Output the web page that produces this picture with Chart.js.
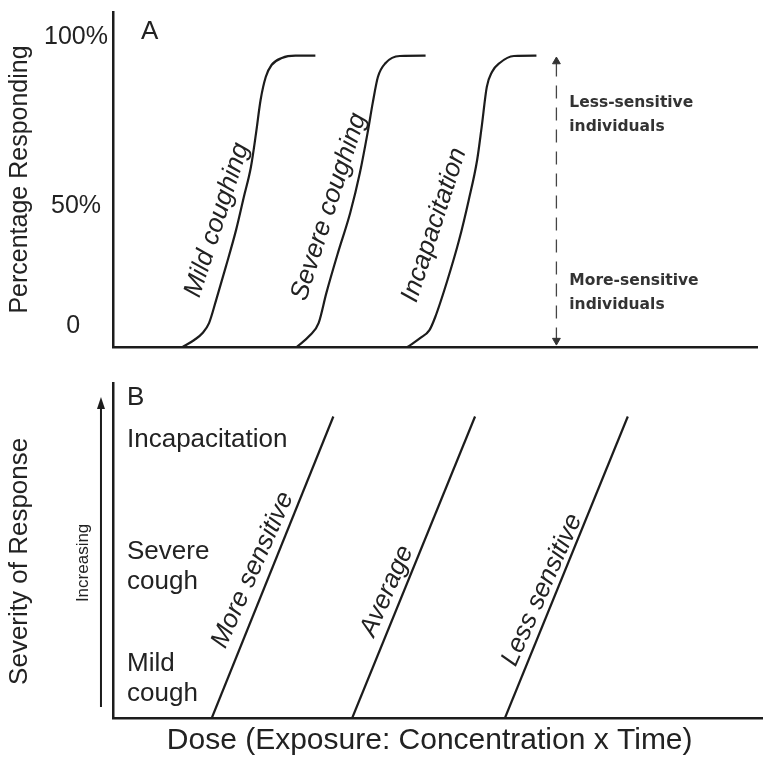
<!DOCTYPE html>
<html><head><meta charset="utf-8">
<script src="https://cdn.jsdelivr.net/npm/chart.js@4.4.1/dist/chart.umd.min.js"></script>
<style>
html,body{margin:0;padding:0;background:#fff;}
#wrap{position:relative;width:763px;height:760px;overflow:hidden;background:#fff;}
#cA{position:absolute;left:0;top:0;}
#cB{position:absolute;left:0;top:365px;}
</style></head><body>
<div id="wrap"><canvas id="cA" width="763" height="365"></canvas><canvas id="cB" width="763" height="395"></canvas></div>
<script>
// ---------------- DATA ----------------
// Panel A: percentage responding vs dose (schematic dose units)
const mildX   = [10.8, 12.6, 13.9, 14.9, 16.0, 17.5, 19.1, 20.3, 21.4, 22.2, 22.9, 23.7, 24.6, 26.2, 28.3, 31.4];
const mildY   = [0, 2.4, 4.8, 8.2, 16.1, 27.5, 40.2, 51.5, 61.8, 73.5, 84.8, 92.7, 96.8, 99.2, 100, 100];
const severeX = [28.5, 30.6, 31.9, 33.1, 34.9, 36.8, 38.3, 39.5, 40.3, 41.1, 42.3, 44.5, 48.5];
const severeY = [0, 4.1, 8.2, 18.5, 32.3, 46.0, 59.7, 73.5, 83.8, 92.7, 97.5, 99.9, 100];
const incapX  = [45.7, 47.7, 49.1, 50.0, 51.9, 53.7, 55.2, 56.5, 57.2, 58.0, 58.8, 60.0, 62.2, 65.7];
const incapY  = [0, 3.1, 5.8, 10.3, 23.0, 36.7, 50.5, 64.2, 75.5, 89.3, 94.4, 97.5, 99.9, 100];
const spreadX = [68.8, 68.8];
const spreadY = [2.2, 98.0];
const yTickValuesA = [7.0, 48.2, 106.5];
const yTickLabelsA = ['0    ', '50% ', '100%'];
const curveLabelsA = ['Mild coughing', 'Severe coughing', 'Incapacitation'];
const sideLabelsA  = [['Less-sensitive', 'individuals'], ['More-sensitive', 'individuals']];

// Panel B: severity of response vs dose
const moreSensX = [15.2, 33.9];
const moreSensY = [0, 9];
const averageX  = [36.8, 55.7];
const averageY  = [0, 9];
const lessSensX = [60.3, 79.2];
const lessSensY = [0, 9];
const increasingX = [-1.85, -1.85];
const increasingY = [0.33, 9.4];
const yTickValuesB = [1.18, 4.5, 8.3];
const yTickLabelsB = [['Mild', 'cough'], ['Severe', 'cough'], 'Incapacitation'];
const lineLabelsB = ['More sensitive', 'Average', 'Less sensitive'];

// ---------------- STYLE ----------------
const INK = '#1c1c1c';
const TXT = '#222';
const FAM = '"Liberation Sans", Arial, Helvetica, sans-serif';
const pts = (xs, ys) => xs.map((x, i) => ({x, y: ys[i]}));

function annotPlugin(items) {
  return {
    id: 'annot',
    afterDatasetsDraw(chart) {
      const {ctx} = chart;
      const xs = chart.scales.x, ys = chart.scales.y;
      items.forEach(it => {
        ctx.save();
        ctx.translate(xs.getPixelForValue(it.x), ys.getPixelForValue(it.y));
        ctx.rotate((it.rot || 0) * Math.PI / 180);
        ctx.font = it.font;
        ctx.fillStyle = it.color || TXT;
        ctx.textAlign = it.align || 'center';
        ctx.textBaseline = 'middle';
        const lines = Array.isArray(it.text) ? it.text : [it.text];
        const lh = it.lh || 0;
        lines.forEach((l, i) => ctx.fillText(l, 0, (i - (lines.length - 1) / 2) * lh));
        ctx.restore();
      });
    }
  };
}

// arrowhead at the last point of a dataset (points outside the chart area are not drawn by Chart.js)
function arrowHeadPlugin(dsIndex) {
  return {
    id: 'arrowHead',
    afterDatasetsDraw(chart) {
      const meta = chart.getDatasetMeta(dsIndex);
      const n = meta.data.length;
      const p = meta.data[n - 1], q = meta.data[n - 2];
      const ang = Math.atan2(p.y - q.y, p.x - q.x);
      const {ctx} = chart;
      ctx.save();
      ctx.translate(p.x, p.y);
      ctx.rotate(ang);
      ctx.beginPath();
      ctx.moveTo(6, 0);
      ctx.lineTo(-6, -4);
      ctx.lineTo(-6, 4);
      ctx.closePath();
      ctx.fillStyle = INK;
      ctx.fill();
      ctx.restore();
    }
  };
}

const lineDs = (data, extra) => Object.assign({
  data, showLine: true, borderColor: INK, backgroundColor: INK, borderWidth: 2.2,
  pointRadius: 0, pointHoverRadius: 0, cubicInterpolationMode: 'monotone', fill: false
}, extra || {});

const noPad = s => { s.paddingTop = 0; s.paddingBottom = 0; s.paddingLeft = 0; s.paddingRight = 0; };

// ---------------- PANEL A ----------------
new Chart(document.getElementById('cA'), {
  type: 'scatter',
  data: {
    datasets: [
      lineDs(pts(mildX, mildY)),
      lineDs(pts(severeX, severeY)),
      lineDs(pts(incapX, incapY)),
      lineDs(pts(spreadX, spreadY), {
        borderWidth: 1.3, borderColor: '#444', borderDash: [13, 9], cubicInterpolationMode: 'default',
        pointStyle: 'triangle', pointRadius: 4.5, pointRotation: [180, 0],
        pointBackgroundColor: '#333', pointBorderColor: '#333', pointBorderWidth: 1
      })
    ]
  },
  options: {
    responsive: false, animation: false, devicePixelRatio: 1,
    layout: {padding: {top: 12, left: 0, right: 0, bottom: 0}},
    plugins: {legend: {display: false}, tooltip: {enabled: false}},
    scales: {
      x: {
        type: 'linear', min: 0, max: 100,
        ticks: {display: false}, grid: {display: false, drawTicks: false},
        border: {color: INK, width: 2.5},
        afterFit: s => { s.height = 18; noPad(s); }
      },
      y: {
        type: 'linear', min: 0, max: 115,
        afterBuildTicks: s => { s.ticks = yTickValuesA.map(v => ({value: v})); },
        ticks: {callback: (v, i) => yTickLabelsA[i], font: {family: FAM, size: 25}, color: TXT, padding: 5, autoSkip: false},
        grid: {display: false, drawTicks: false},
        border: {color: INK, width: 2.5},
        title: {display: true, text: 'Percentage Responding', font: {family: FAM, size: 25}, color: TXT, padding: {top: 5, bottom: 0}},
        afterFit: s => { s.width = 113; noPad(s); }
      }
    }
  },
  plugins: [annotPlugin([
    {text: 'A', x: 5.7, y: 108.1, font: `26px ${FAM}`},
    {text: curveLabelsA[0], x: 16.15, y: 43.6, rot: -72, font: `italic 26px ${FAM}`},
    {text: curveLabelsA[1], x: 33.5, y: 48.1, rot: -72, font: `italic 26px ${FAM}`},
    {text: curveLabelsA[2], x: 49.85, y: 41.9, rot: -72, font: `italic 26px ${FAM}`},
    {text: sideLabelsA[0], x: 70.8, y: 79.6, align: 'left', lh: 24, color: '#333', font: `bold 15.5px "DejaVu Sans", Verdana, sans-serif`},
    {text: sideLabelsA[1], x: 70.8, y: 18.4, align: 'left', lh: 24, color: '#333', font: `bold 15.5px "DejaVu Sans", Verdana, sans-serif`}
  ])]
});

// ---------------- PANEL B ----------------
new Chart(document.getElementById('cB'), {
  type: 'scatter',
  data: {
    datasets: [
      lineDs(pts(moreSensX, moreSensY), {cubicInterpolationMode: 'default'}),
      lineDs(pts(averageX, averageY), {cubicInterpolationMode: 'default'}),
      lineDs(pts(lessSensX, lessSensY), {cubicInterpolationMode: 'default'}),
      lineDs(pts(increasingX, increasingY), {clip: false, borderWidth: 2, cubicInterpolationMode: 'default'})
    ]
  },
  options: {
    responsive: false, animation: false, devicePixelRatio: 1,
    layout: {padding: {top: 18, left: 0, right: 0, bottom: 0}},
    plugins: {legend: {display: false}, tooltip: {enabled: false}},
    scales: {
      x: {
        type: 'linear', min: 0, max: 100,
        ticks: {display: false}, grid: {display: false, drawTicks: false},
        border: {color: INK, width: 2.5},
        title: {display: true, text: 'Dose (Exposure: Concentration x Time)  ', font: {family: FAM, size: 30}, color: TXT, padding: {top: 0, bottom: 1}},
        afterFit: s => { s.height = 42; noPad(s); }
      },
      y: {
        type: 'linear', min: 0, max: 10,
        afterBuildTicks: s => { s.ticks = yTickValuesB.map(v => ({value: v})); },
        ticks: {mirror: true, callback: (v, i) => yTickLabelsB[i], font: {family: FAM, size: 26, lineHeight: 1.15}, color: TXT, padding: 14, autoSkip: false},
        grid: {display: false, drawTicks: false},
        border: {color: INK, width: 2.5},
        title: {display: true, text: 'Severity of Response   ', font: {family: FAM, size: 26}, color: TXT, padding: {top: 4, bottom: 0}},
        afterFit: s => { s.width = 113; noPad(s); }
      }
    }
  },
  plugins: [arrowHeadPlugin(3), annotPlugin([
    {text: 'B', x: 3.5, y: 9.55, font: `26px ${FAM}`},
    {text: 'Increasing', x: -4.6, y: 4.63, rot: -90, font: `17px ${FAM}`},
    {text: lineLabelsB[0], x: 21.5, y: 4.42, rot: -66, font: `italic 26px ${FAM}`},
    {text: lineLabelsB[1], x: 42.15, y: 3.79, rot: -66, font: `italic 26px ${FAM}`},
    {text: lineLabelsB[2], x: 66.0, y: 3.82, rot: -66, font: `italic 26px ${FAM}`}
  ])]
});
</script>
</body></html>
